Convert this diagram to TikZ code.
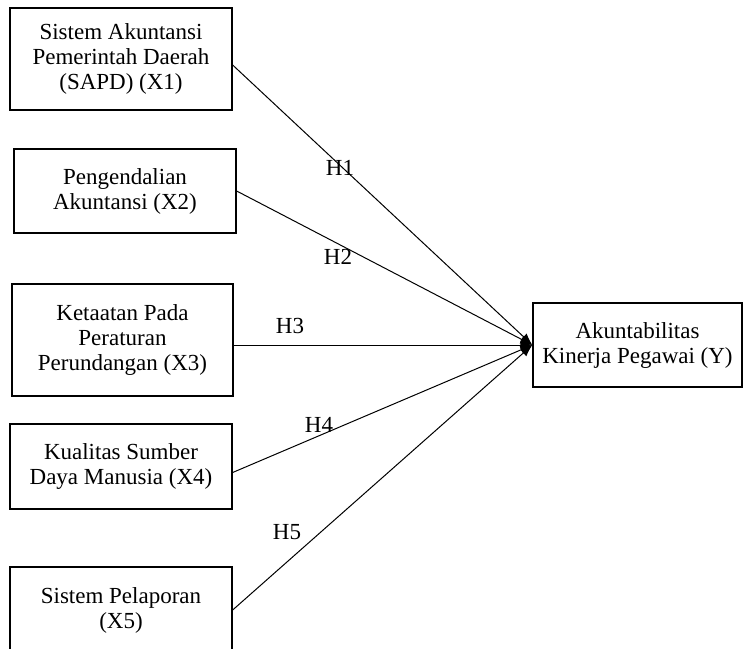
\documentclass[tikz,border=0pt]{standalone}
\usepackage{fontspec}
\setmainfont{Liberation Serif}
\usetikzlibrary{arrows.meta}

\begin{document}
\begin{tikzpicture}[x=1pt, y=-1pt, font=\fontsize{23}{25}\selectfont,
        var/.style={draw, line width=1.3pt, minimum width=222, align=center},
        path/.style={line width=1pt, -{Latex[length=12pt,width=9pt]}}]
        \useasboundingbox (0,0) rectangle (743,648);

        \node (x1) at (121, 59) [var, minimum height=102] {Sistem Akuntansi\\Pemerintah Daerah\\(SAPD) (X1)};
        \node (x2) at (125, 191) [var, minimum height=84] {Pengendalian\\Akuntansi (X2)};
        \node (x3) at (122.5, 340) [var, minimum width=221, minimum height=112] {Ketaatan Pada\\Peraturan\\Perundangan (X3)};
        \node (x4) at (121, 466.5) [var, minimum height=85] {Kualitas Sumber\\Daya Manusia (X4)};
        \node (x5) at (121, 610) [var, minimum height=86] {Sistem Pelaporan\\(X5)};

        \node (y) at (637.5, 345) [var, minimum width=209, minimum height=84] {Akuntabilitas\\Kinerja Pegawai (Y)};

        \node (h1) at (340, 168) {H1};
        \node (h2) at (338, 257) {H2};
        \node (h3) at (290, 326) {H3};
        \node (h4) at (319, 425) {H4};
        \node (h5) at (287, 532) {H5};

        \draw[path] ([yshift=-6pt]x1.east) -- (y.west);
        \draw[path] (x2.east) -- (y.west);
        \draw[path] (x3.east |- y.west) -- (y.west);
        \draw[path] ([yshift=-6pt]x4.east) -- (y.west);
        \draw[path] (x5.east) -- (y.west);
    \end{tikzpicture}
\end{document}
